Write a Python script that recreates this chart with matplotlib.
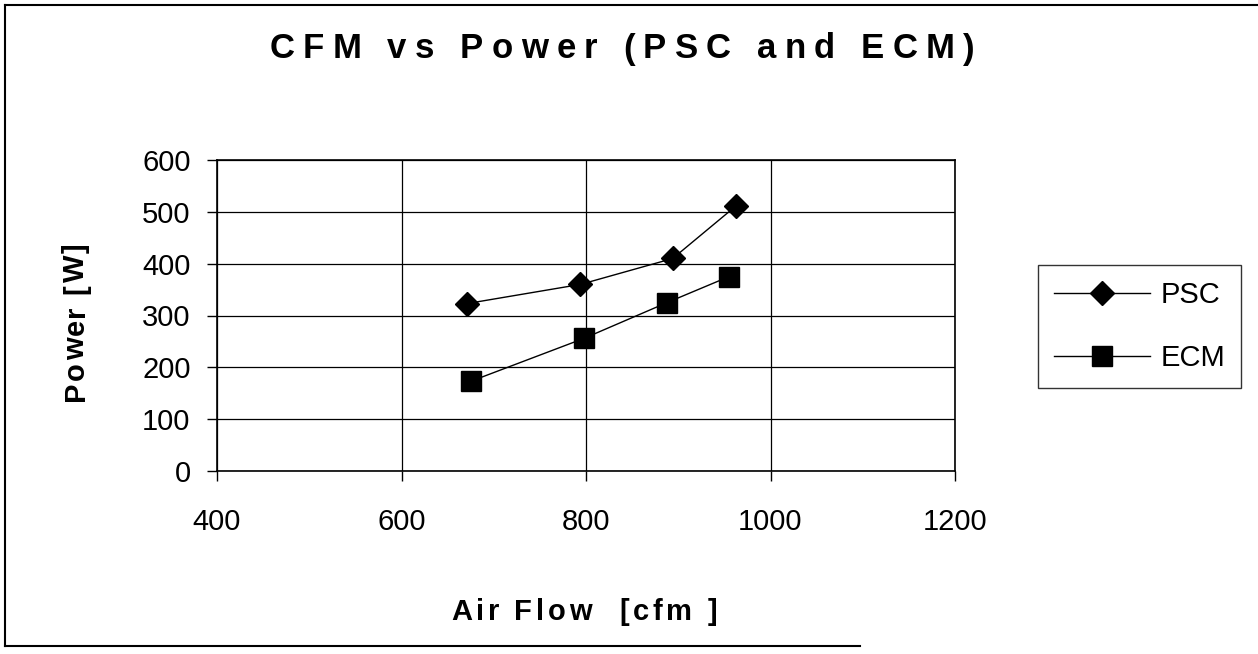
import matplotlib
matplotlib.use("Agg")
import matplotlib.pyplot as plt
from matplotlib.font_manager import FontProperties
from matplotlib.transforms import IdentityTransform
from matplotlib.lines import Line2D

# ---- data ----
psc_cfm = [671, 794, 894, 963]
psc_power = [323, 360, 410, 512]
ecm_cfm = [675, 798, 888, 955]
ecm_power = [173, 256, 325, 375]
x_ticks = [400, 600, 800, 1000, 1200]
y_ticks = [0, 100, 200, 300, 400, 500, 600]
title_text = "CFM vs Power (PSC and ECM)"
xlabel_text = "Air Flow  [cfm ]"
ylabel_text = "Power [W]"
series_names = ["PSC", "ECM"]

W, H = 1258, 654
fig = plt.figure(figsize=(W / 100, H / 100), dpi=100)
fig.patch.set_facecolor("white")

ax = fig.add_axes([217 / W, 1 - 471 / H, (955 - 217) / W, (471 - 160) / H])
ax.plot(psc_cfm, psc_power, color="black", lw=1.0, marker="D", ms=12.5,
        mfc="black", mec="black", label=series_names[0])
ax.plot(ecm_cfm, ecm_power, color="black", lw=1.0, marker="s", ms=15,
        mfc="black", mec="black", label=series_names[1])

ax.set_xlim(400, 1200)
ax.set_ylim(0, 600)
ax.set_xticks(x_ticks)
ax.set_yticks(y_ticks)
ax.grid(True, color="black", lw=0.9)
ax.set_axisbelow(True)
for sp in ax.spines.values():
    sp.set_color("black")
    sp.set_linewidth(1.2)
ax.tick_params(axis="both", direction="out", length=7, width=1.0, color="black")
ax.tick_params(axis="x", pad=20)
ax.tick_params(axis="y", pad=12)
for lab in ax.get_xticklabels() + ax.get_yticklabels():
    lab.set_fontfamily("Liberation Sans")
    lab.set_fontsize(21)

leg = fig.legend(loc="upper left",
                 bbox_to_anchor=(1038 / W, 1 - 265 / H),
                 prop=FontProperties(family="Liberation Sans", size=21),
                 frameon=True, fancybox=False, edgecolor="black",
                 handlelength=3.3, handletextpad=0.35, labelspacing=1.2,
                 borderpad=0.55, borderaxespad=0.0)
leg.get_frame().set_linewidth(1.0)

# figure border (left, top, bottom)
fig.add_artist(Line2D([5 / W, 5 / W], [1 - 646 / H, 1 - 5 / H], color="black", lw=1.5, transform=fig.transFigure))
fig.add_artist(Line2D([5 / W, 1.0], [1 - 5 / H, 1 - 5 / H], color="black", lw=1.5, transform=fig.transFigure))
fig.add_artist(Line2D([5 / W, 860 / W], [1 - 646 / H, 1 - 646 / H], color="black", lw=1.5, transform=fig.transFigure))

renderer = fig.canvas.get_renderer()


def spaced_text(s, cx, cy, size, target_width, rotation=0, weight="bold"):
    prop = FontProperties(family="Liberation Sans", size=size, weight=weight)
    widths = []
    aa = renderer.get_text_width_height_descent("aa", prop, ismath=False)[0]
    asp = renderer.get_text_width_height_descent("a a", prop, ismath=False)[0]
    for ch in s:
        if ch == " ":
            widths.append(asp - aa)
        else:
            widths.append(renderer.get_text_width_height_descent(ch, prop, ismath=False)[0])
    track = max(0.0, (target_width - sum(widths)) / (len(s) - 1))
    total = sum(widths) + track * (len(s) - 1)
    pos = -total / 2
    for ch, w in zip(s, widths):
        if ch != " ":
            if rotation == 0:
                fig.text(cx + pos, cy, ch, transform=IdentityTransform(), ha="left",
                         va="center", fontproperties=prop)
            else:
                fig.text(cx, cy + pos, ch, transform=IdentityTransform(), ha="left",
                         va="center", rotation=90, rotation_mode="anchor",
                         fontproperties=prop)
        pos += w + track


spaced_text(title_text, 622, H - 49, 25, 705)
spaced_text(xlabel_text, 584, H - 612, 21, 266)
spaced_text(ylabel_text, 76, H - 322, 21, 158, rotation=90)

fig.savefig("out.png", dpi=100, facecolor="white")
